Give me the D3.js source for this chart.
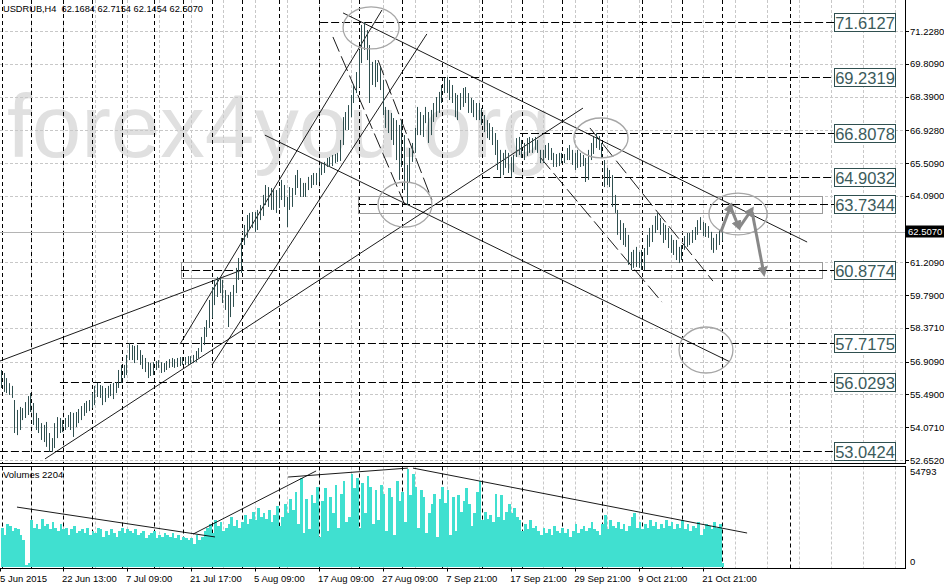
<!DOCTYPE html>
<html><head><meta charset="utf-8">
<script src="https://cdn.jsdelivr.net/npm/d3@7"></script>
<style>
body{margin:0;background:#fff}
svg{display:block}
text{font-family:"Liberation Sans",Arial,sans-serif}
</style>
</head><body>
<svg id="c" width="944" height="587"></svg>
<script>
// ---------------- DATA ----------------
const symbolTitle = "USDRUB,H4  62.1684 62.7154 62.1454 62.5070";
const volumeTitle = "Volumes 2204";
const highs = [
56.55,56.42,56.20,55.98,55.86, 55.25,54.82,54.95,54.90,55.16,
55.42,55.55,55.12,54.69,54.47, 54.25,54.17,54.30,53.82,53.60,
54.25,54.51,54.47,54.38,54.47, 54.60,54.73,54.69,54.73,54.86,
54.99,55.12,55.21,55.25,55.55, 55.86,55.99,55.90,55.86,55.77,
55.86,55.94,55.99,56.03,56.55, 56.77,56.77,57.20,57.72,57.63,
57.59,57.63,57.41,57.20,57.07, 56.89,56.85,56.89,56.94,56.98,
56.89,56.85,56.94,57.02,57.07, 57.02,57.07,57.11,57.11,57.11,
57.15,57.15,57.20,57.37,57.50, 57.98,58.41,58.71,59.58,60.14,
60.45,60.58,60.53,60.45,60.01, 59.80,59.93,60.23,60.97,61.40,
62.27,62.83,63.26,63.35,63.39, 63.39,63.48,63.69,64.13,64.56,
64.47,64.43,64.34,64.34,64.43, 64.78,64.56,64.04,64.47,64.43,
64.99,65.21,64.86,64.65,64.65, 64.91,64.99,65.08,65.08,65.30,
65.51,65.56,65.73,65.77,65.86, 65.90,65.95,66.51,67.50,67.72,
68.02,68.46,68.89,69.45,70.41, 71.49,71.61,71.27,70.62,69.89,
69.97,69.84,69.67,69.11,67.94, 67.81,67.68,67.46,67.37,67.16,
67.37,66.72,65.43,66.16,66.38, 67.03,67.94,67.72,67.59,67.94,
67.72,67.81,68.11,68.37,68.59, 68.89,69.19,69.24,69.11,68.89,
68.54,68.46,68.54,68.76,68.80, 68.54,68.33,68.24,68.11,68.11,
67.89,67.59,67.37,67.24,67.07, 66.81,66.51,66.08,65.95,66.08,
65.95,65.77,65.86,66.59,66.64, 66.51,66.38,66.59,66.64,66.59,
66.64,66.51,66.08,66.08,66.29, 66.38,66.16,65.95,65.90,65.95,
65.95,65.90,66.16,66.29,66.08, 65.95,66.08,65.95,65.86,65.73,
66.08,66.38,66.64,66.81,66.68, 66.38,65.64,65.30,65.21,64.99,
64.13,63.48,63.04,62.91,62.70, 62.40,61.66,61.75,61.88,61.66,
61.75,61.83,62.40,62.70,62.83, 63.22,63.35,63.13,62.91,62.83,
62.70,62.40,62.18,62.18,61.88, 61.96,62.35,62.48,62.48,62.61,
62.74,63.04,63.17,62.96,62.91, 62.78,62.53,62.27,62.44,62.61,
62.7154];
const lows = [
55.77,55.60,55.55,55.47,55.34, 53.82,53.73,53.95,54.38,54.47,
54.60,54.73,54.17,53.95,53.82, 53.52,53.43,53.22,53.00,53.00,
53.17,53.60,53.82,53.86,53.95, 54.08,53.95,53.65,54.08,54.25,
54.38,54.56,54.69,54.77,54.90, 55.03,55.38,55.34,55.03,55.16,
55.34,55.42,55.29,55.55,55.77, 55.99,56.20,56.33,56.98,56.98,
56.85,56.98,56.77,56.59,56.46, 56.20,56.29,56.33,56.55,56.64,
56.42,56.46,56.55,56.64,56.68, 56.64,56.68,56.72,56.77,56.77,
56.77,56.81,56.85,56.89,57.07, 57.33,57.63,57.98,58.37,58.80,
59.36,59.71,59.88,59.45,59.15, 58.41,58.84,59.28,59.88,60.45,
60.75,61.96,62.27,62.61,62.70, 62.53,62.61,63.04,63.22,63.69,
63.61,63.48,63.48,63.35,63.56, 63.91,63.61,62.74,63.48,63.61,
64.13,64.43,64.04,64.04,64.04, 64.34,64.43,64.56,64.56,64.69,
64.99,65.08,65.34,65.34,65.38, 65.51,65.56,65.60,66.29,66.94,
66.94,67.50,68.11,68.54,68.80, 69.84,70.41,69.97,68.11,68.89,
68.80,69.02,68.67,67.59,67.03, 66.81,66.51,66.29,65.64,64.78,
65.34,64.34,63.69,64.65,65.56, 65.95,66.72,66.72,66.64,67.24,
66.38,66.72,67.29,67.50,67.68, 68.11,68.54,68.54,68.24,68.11,
67.50,67.37,67.81,67.94,68.11, 67.68,67.68,67.50,67.37,67.37,
67.16,66.85,66.59,66.51,66.29, 65.86,65.21,64.91,64.99,65.30,
65.08,64.91,65.12,65.77,65.86, 65.73,65.64,65.82,65.95,65.95,
66.08,65.95,65.51,65.51,65.73, 65.64,65.64,65.34,65.34,65.38,
65.51,65.51,65.64,65.64,65.43, 65.21,65.30,65.34,65.38,64.69,
64.78,65.64,65.90,66.16,66.08, 65.73,64.47,64.56,64.47,63.61,
63.35,62.40,62.18,61.96,61.88, 61.10,60.88,60.97,61.01,60.97,
60.88,60.88,61.53,61.88,62.09, 62.48,62.61,62.40,62.05,62.18,
61.83,61.62,61.53,61.31,61.18, 61.31,61.75,61.88,61.96,62.05,
62.18,62.40,62.61,62.35,62.31, 62.27,61.75,61.62,61.75,61.96,
62.1454];
// tick volumes, thousands
const volumesK = [
22,18,24,23,20, 22,21,18,15,1, 2,26,22,24,21, 27,23,24,21,25,
22,20,24,21,22, 18,21,23,19,20, 21,19,22,18,20, 19,22,21,17,20,
18,21,19,17,20, 22,19,21,20,19, 21,18,19,20,16, 18,19,20,16,18,
17,19,18,17,19, 16,18,15,17,16, 15,16,13,18,15, 17,20,22,24,19,
26,23,25,20,22, 24,28,23,26,22, 25,29,24,27,31, 26,33,28,30,27,
32,25,29,34,23, 28,35,30,38,32, 42,24,50,19,38, 21,40,36,45,17,
37,44,20,39,30, 46,22,41,48,25, 28,52,44,50,22, 47,30,51,45,24,
43,26,46,41,20, 44,39,18,48,37, 42,25,54.793,40,52, 45,22,43,39,19,
30,35,41,17,38, 45,36,43,18,39, 20,40,31,37,44, 35,23,30,42,48,
26,31,27,29,25, 41,28,40,26,31, 35,30,33,28,26, 20,24,21,26,22,
23,20,18,22,19, 21,18,23,20,19, 22,19,21,17,20, 24,19,21,23,20,
22,25,21,20,18, 24,29,21,26,23, 22,25,21,24,20, 23,28,30,22,25,
21,24,22,26,23, 25,21,24,22,26, 23,25,21,24,22, 26,21,24,20,23,
22,25,18,21,24, 23,21,25,22,24, 2];
const volumeMaxLabel = "54793";
const priceTicks = [71.2280,69.8090,68.3900,66.9280,65.5090,64.0900,61.2090,59.7900,58.3710,56.9090,55.4900,54.0710,52.6520];
const lastPrice = 62.5070;
const dateLabels = ["5 Jun 2015","22 Jun 13:00","7 Jul 09:00","21 Jul 17:00","5 Aug 09:00","17 Aug 09:00","27 Aug 09:00","7 Sep 21:00","17 Sep 21:00","29 Sep 21:00","9 Oct 21:00","21 Oct 21:00"];
const dateLabelBars = [-0.6,23,47,71,95,119,143,167,191,215,239,263];
const weekStartBars = [0,11,23,34,45,57,68,79,90,104,119,134,150,165,180,195,210,225,240,255,270,295.5];
// horizontal levels (price) and the bar where each drawn level starts
const levels = [71.6127,69.2319,66.8078,64.9032,63.7344,60.8774,57.7175,56.0293,53.0424];
const levelStartBar = [119.4,151.2,194.3,180.1,133.6,67.3,21.9,21.9,-0.6];
// zone rectangles: [startBar, endBar, priceTop, priceBottom]
const zones = [[133.6,307.5,64.08,63.35],[67.3,307.5,61.23,60.53]];
// trend lines: [bar1, price1, bar2, price2]
const trendLines = [
 [-0.56,56.94,90.1,60.88],
 [16.3,52.70,217.9,67.89],
 [128.0,72.01,301.9,62.09],
 [98.7,66.72,273.0,56.90],
 [66.9,57.67,142.6,72.14],
 [78.9,56.77,159.4,71.10]
];
const dashedLines = [
 [124.2,70.97,151.2,63.69],
 [141.1,69.97,161.3,63.91],
 [201.8,65.77,247.5,59.49],
 [220.5,67.03,266.6,60.40]
];
// ellipses by bounding box: [bar1, priceTop, bar2, priceBottom]
const ellipses = [
 [128.0,72.27,149.0,70.45],
 [141.1,64.69,161.3,62.74],
 [214.5,67.46,234.8,65.73],
 [265.1,64.21,286.9,62.40],
 [253.9,58.41,274.1,56.42]
];
// forecast arrows: [bar1, price1, bar2, price2]
const arrows = [
 [269.6,62.53,273.4,63.69],
 [273.4,63.56,276.4,62.70],
 [276.4,62.70,281.3,63.52],
 [281.3,63.39,285.7,60.71]
];
// volume trend lines: [bar1, volK1, bar2, volK2]
const volLines = [
 [5.8,33.5,80.0,16.8],
 [71.8,18.4,117.9,53.7],
 [107.4,50.3,152.3,55.3],
 [154.2,55.3,279.4,19.0]
];

// ---------------- CHART ----------------
const svg = d3.select("#c");
const plotR = 905, priceBottom = 463.5, volTopY = 466.5, volBottomY = 568.5;
const x = d3.scaleLinear().domain([0, 270]).range([1.5, 722]);
const y = d3.scaleLinear().domain([52.652, 71.228]).range([460, 31]);
const yv = d3.scaleLinear().domain([0, 54.793]).range([567, 469]);
const slate = "#2f4f4f";

const defs = svg.append("defs");
defs.append("clipPath").attr("id","cp").append("rect").attr("x",0).attr("y",0).attr("width",plotR).attr("height",priceBottom);
defs.append("clipPath").attr("id","cv").append("rect").attr("x",0).attr("y",volTopY).attr("width",plotR).attr("height",volBottomY-volTopY);
defs.append("marker").attr("id","ah").attr("viewBox","0 0 10 10").attr("refX",7).attr("refY",5)
  .attr("markerWidth",3.4).attr("markerHeight",3.4).attr("orient","auto")
  .append("path").attr("d","M0,0 L10,5 L0,10 z").attr("fill","#888");

const gP = svg.append("g").attr("clip-path","url(#cp)");
const gV = svg.append("g").attr("clip-path","url(#cv)");

// watermark
gP.append("text").attr("x",7).attr("y",157).attr("font-size",89).attr("fill","#e0e0e0")
  .text("forex4you.org");

const gridBars = d3.range(11, 340, 12);
const crisp = v => Math.round(v) + 0.5;

// grid
gP.selectAll(".hg").data(priceTicks).join("line")
  .attr("x1",0).attr("x2",plotR).attr("y1",d=>crisp(y(d))).attr("y2",d=>crisp(y(d)))
  .attr("stroke","#c8c8c8").attr("stroke-dasharray","3,2");
[gP, gV].forEach((g, k) => {
  const y1 = k ? volTopY : 0, y2 = k ? volBottomY : priceBottom;
  g.selectAll(".vg").data(gridBars).join("line")
    .attr("x1",d=>crisp(x(d))).attr("x2",d=>crisp(x(d))).attr("y1",y1).attr("y2",y2)
    .attr("stroke","#c8c8c8").attr("stroke-dasharray","3,2");
  g.selectAll(".wk").data(weekStartBars).join("line")
    .attr("x1",d=>crisp(x(d))).attr("x2",d=>crisp(x(d))).attr("y1",y1).attr("y2",y2)
    .attr("stroke","#000").attr("stroke-dasharray","4,3");
});

// bid line
gP.append("line").attr("x1",0).attr("x2",plotR).attr("y1",crisp(y(lastPrice))).attr("y2",crisp(y(lastPrice)))
  .attr("stroke","#b4b4b4");

// zones
gP.selectAll(".zone").data(zones).join("rect")
  .attr("x",d=>crisp(x(d[0]))).attr("y",d=>crisp(y(d[2])))
  .attr("width",d=>Math.round(x(d[1])-x(d[0]))).attr("height",d=>Math.round(y(d[3])-y(d[2])))
  .attr("fill","none").attr("stroke","#9a9a9a");

// levels
gP.selectAll(".lvl").data(levels).join("line")
  .attr("x1",(d,i)=>x(levelStartBar[i])).attr("x2",834)
  .attr("y1",d=>crisp(y(d))).attr("y2",d=>crisp(y(d)))
  .attr("stroke","#000").attr("stroke-dasharray","8,3");

// trend lines
gP.selectAll(".tl").data(trendLines).join("line")
  .attr("x1",d=>x(d[0])).attr("y1",d=>y(d[1])).attr("x2",d=>x(d[2])).attr("y2",d=>y(d[3]))
  .attr("stroke","#000").attr("stroke-width",0.9);
gP.selectAll(".dl").data(dashedLines).join("line")
  .attr("x1",d=>x(d[0])).attr("y1",d=>y(d[1])).attr("x2",d=>x(d[2])).attr("y2",d=>y(d[3]))
  .attr("stroke","#000").attr("stroke-width",0.9).attr("stroke-dasharray","16,5");

// price bars
gP.selectAll(".bar").data(highs).join("line")
  .attr("x1",(d,i)=>Math.floor(x(i))+0.5).attr("x2",(d,i)=>Math.floor(x(i))+0.5)
  .attr("y1",d=>y(d)).attr("y2",(d,i)=>Math.max(y(lows[i]), y(d)+1))
  .attr("stroke",slate).attr("stroke-width",1);

// ellipses
gP.selectAll(".el").data(ellipses).join("ellipse")
  .attr("cx",d=>(x(d[0])+x(d[2]))/2).attr("cy",d=>(y(d[1])+y(d[3]))/2)
  .attr("rx",d=>(x(d[2])-x(d[0]))/2).attr("ry",d=>(y(d[3])-y(d[1]))/2)
  .attr("fill","none").attr("stroke","#a6a6a6").attr("stroke-width",1.3);

// arrows
gP.selectAll(".ar").data(arrows).join("line")
  .attr("x1",d=>x(d[0])).attr("y1",d=>y(d[1])).attr("x2",d=>x(d[2])).attr("y2",d=>y(d[3]))
  .attr("stroke","#888").attr("stroke-width",3).attr("marker-end","url(#ah)");

// level label boxes
const lb = svg.append("g");
lb.selectAll("rect").data(levels).join("rect")
  .attr("x",834.5).attr("y",d=>Math.round(y(d))-8.5).attr("width",61).attr("height",18)
  .attr("fill","#fff").attr("stroke",slate);
lb.selectAll("text").data(levels).join("text")
  .attr("x",865).attr("y",d=>Math.round(y(d))+6.5).attr("text-anchor","middle")
  .attr("font-size",16.5).attr("fill","#3b5b5b").text(d=>d.toFixed(4));

// volumes
gV.selectAll(".vb").data(volumesK).join("rect")
  .attr("x",(d,i)=>Math.floor(x(i))).attr("width",(d,i)=>Math.max(1,Math.floor(x(i+1))-Math.floor(x(i))))
  .attr("y",d=>yv(d)).attr("height",d=>Math.max(0,567-yv(d)))
  .attr("fill","#40e0d0").attr("shape-rendering","crispEdges");
gV.selectAll(".vl").data(volLines).join("line")
  .attr("x1",d=>x(d[0])).attr("y1",d=>yv(d[1])).attr("x2",d=>x(d[2])).attr("y2",d=>yv(d[3]))
  .attr("stroke","#000").attr("stroke-width",0.9);

// frames
const fr = svg.append("g").attr("stroke","#000").attr("shape-rendering","crispEdges");
fr.append("line").attr("x1",0).attr("x2",plotR+0.5).attr("y1",priceBottom).attr("y2",priceBottom);
fr.append("line").attr("x1",0).attr("x2",plotR+0.5).attr("y1",volTopY).attr("y2",volTopY);
fr.append("line").attr("x1",0).attr("x2",plotR+0.5).attr("y1",volBottomY).attr("y2",volBottomY);
fr.append("line").attr("x1",plotR+0.5).attr("x2",plotR+0.5).attr("y1",0).attr("y2",priceBottom);
fr.append("line").attr("x1",plotR+0.5).attr("x2",plotR+0.5).attr("y1",volTopY).attr("y2",volBottomY);

// price axis
const ax = svg.append("g").attr("font-size",9.5).attr("fill","#000");
priceTicks.forEach(t=>{
  ax.append("line").attr("x1",plotR).attr("x2",plotR+4).attr("y1",crisp(y(t))).attr("y2",crisp(y(t))).attr("stroke","#000");
  ax.append("text").attr("x",910).attr("y",y(t)+3.5).text(t.toFixed(4));
});
ax.append("rect").attr("x",906).attr("y",Math.round(y(lastPrice))-6.5).attr("width",38).attr("height",12).attr("fill","#000");
ax.append("text").attr("x",908).attr("y",y(lastPrice)+3).attr("fill","#fff").text(lastPrice.toFixed(4));
ax.append("text").attr("x",910).attr("y",yv(54.793)+6).text(volumeMaxLabel);
ax.append("text").attr("x",910).attr("y",565).text("0");

// time axis
dateLabelBars.forEach((b,i)=>{
  ax.append("line").attr("x1",crisp(x(b))).attr("x2",crisp(x(b))).attr("y1",volBottomY).attr("y2",volBottomY+3).attr("stroke","#000");
  ax.append("text").attr("x",Math.max(0,x(b)-1)).attr("y",582).text(dateLabels[i]);
});

// titles
ax.append("text").attr("x",3).attr("y",12).attr("xml:space","preserve")
  .attr("textLength",200).attr("lengthAdjust","spacingAndGlyphs").text(symbolTitle);
ax.append("text").attr("x",3).attr("y",478).text(volumeTitle);
</script>
</body></html>
